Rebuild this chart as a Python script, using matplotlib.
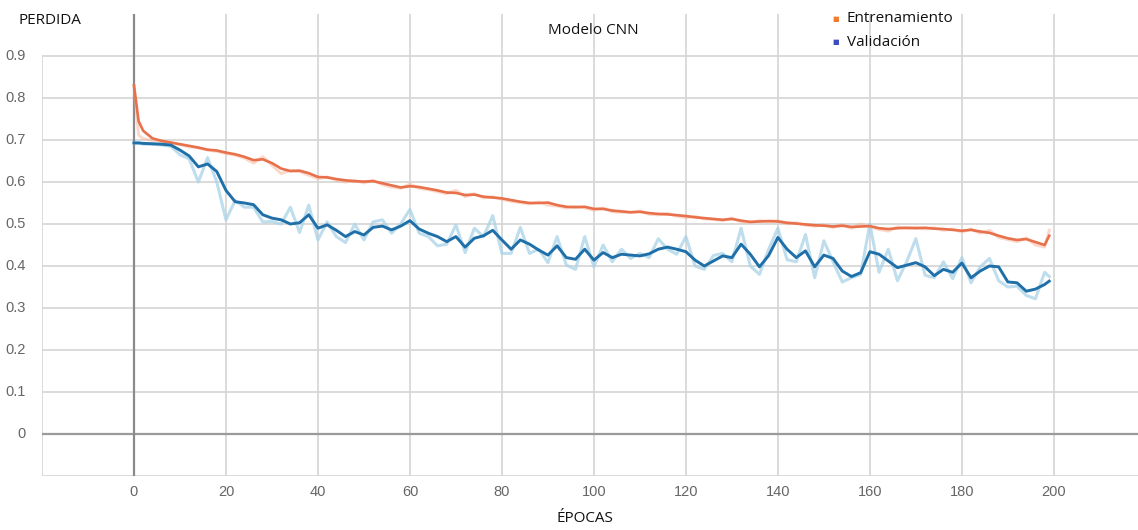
import numpy as np
import matplotlib.pyplot as plt

epochs = [0, 1] + list(range(2, 200, 2)) + [199]

train_smooth = [
    0.830, 0.745, 0.722, 0.704, 0.698, 0.694, 0.690, 0.686, 0.682, 0.677,
    0.675, 0.670, 0.666, 0.660, 0.652, 0.654, 0.645, 0.632, 0.626, 0.627,
    0.621, 0.612, 0.611, 0.607, 0.604, 0.602, 0.601, 0.602, 0.597, 0.592,
    0.587, 0.590, 0.588, 0.584, 0.580, 0.575, 0.574, 0.569, 0.570, 0.565,
    0.563, 0.561, 0.557, 0.553, 0.550, 0.550, 0.551, 0.545, 0.541, 0.540,
    0.541, 0.536, 0.536, 0.532, 0.530, 0.528, 0.529, 0.526, 0.524, 0.523,
    0.521, 0.519, 0.516, 0.514, 0.512, 0.510, 0.512, 0.508, 0.505, 0.506,
    0.507, 0.506, 0.503, 0.501, 0.499, 0.497, 0.496, 0.494, 0.496, 0.493,
    0.494, 0.495, 0.490, 0.488, 0.490, 0.491, 0.490, 0.491, 0.489, 0.488,
    0.486, 0.484, 0.486, 0.482, 0.479, 0.472, 0.466, 0.462, 0.464, 0.457,
    0.450, 0.472,
]

train_raw = [
    0.830, 0.712, 0.703, 0.699, 0.696, 0.693, 0.689, 0.684, 0.681, 0.676,
    0.673, 0.668, 0.664, 0.657, 0.645, 0.660, 0.640, 0.620, 0.628, 0.625,
    0.616, 0.608, 0.612, 0.604, 0.600, 0.603, 0.598, 0.604, 0.594, 0.588,
    0.585, 0.595, 0.585, 0.582, 0.577, 0.572, 0.580, 0.565, 0.572, 0.562,
    0.565, 0.559, 0.554, 0.551, 0.548, 0.552, 0.545, 0.543, 0.538, 0.542,
    0.538, 0.533, 0.538, 0.529, 0.528, 0.527, 0.531, 0.523, 0.522, 0.525,
    0.519, 0.515, 0.518, 0.512, 0.511, 0.508, 0.514, 0.505, 0.504, 0.508,
    0.505, 0.508, 0.500, 0.503, 0.497, 0.495, 0.498, 0.492, 0.498, 0.490,
    0.500, 0.493, 0.487, 0.483, 0.493, 0.489, 0.492, 0.488, 0.491, 0.485,
    0.488, 0.481, 0.488, 0.478, 0.485, 0.468, 0.463, 0.458, 0.467, 0.450,
    0.445, 0.485,
]

val_smooth = [
    0.693, 0.693, 0.692, 0.691, 0.690, 0.688, 0.676, 0.662, 0.636, 0.643,
    0.625, 0.580, 0.553, 0.550, 0.546, 0.522, 0.514, 0.510, 0.500, 0.503,
    0.522, 0.490, 0.498, 0.485, 0.470, 0.482, 0.474, 0.492, 0.495, 0.486,
    0.495, 0.508, 0.488, 0.478, 0.470, 0.458, 0.470, 0.445, 0.466, 0.472,
    0.485, 0.462, 0.440, 0.462, 0.452, 0.438, 0.426, 0.448, 0.420, 0.416,
    0.440, 0.414, 0.432, 0.420, 0.428, 0.426, 0.424, 0.429, 0.440, 0.445,
    0.440, 0.434, 0.414, 0.400, 0.412, 0.424, 0.420, 0.452, 0.428, 0.398,
    0.425, 0.468, 0.440, 0.420, 0.436, 0.398, 0.426, 0.418, 0.388, 0.375,
    0.384, 0.434, 0.428, 0.412, 0.396, 0.402, 0.408, 0.398, 0.377, 0.392,
    0.385, 0.407, 0.372, 0.388, 0.400, 0.398, 0.362, 0.360, 0.340, 0.345,
    0.356, 0.364,
]

val_raw = [
    0.693, 0.693, 0.690, 0.690, 0.688, 0.685, 0.665, 0.655, 0.600, 0.658,
    0.600, 0.510, 0.556, 0.540, 0.540, 0.505, 0.506, 0.500, 0.540, 0.480,
    0.545, 0.462, 0.505, 0.470, 0.456, 0.500, 0.462, 0.505, 0.510, 0.478,
    0.500, 0.535, 0.478, 0.470, 0.448, 0.452, 0.498, 0.432, 0.490, 0.470,
    0.520, 0.430, 0.430, 0.492, 0.430, 0.440, 0.408, 0.470, 0.402, 0.392,
    0.470, 0.398, 0.450, 0.410, 0.440, 0.418, 0.430, 0.420, 0.465, 0.440,
    0.428, 0.470, 0.400, 0.392, 0.425, 0.430, 0.410, 0.490, 0.400, 0.380,
    0.440, 0.490, 0.415, 0.410, 0.475, 0.372, 0.460, 0.410, 0.362, 0.372,
    0.380, 0.500, 0.385, 0.440, 0.365, 0.410, 0.465, 0.378, 0.372, 0.410,
    0.370, 0.420, 0.360, 0.398, 0.418, 0.365, 0.350, 0.352, 0.330, 0.322,
    0.385, 0.375,
]

y_ticks = [0, 0.1, 0.2, 0.3, 0.4, 0.5, 0.6, 0.7, 0.8, 0.9]
x_ticks = list(range(0, 201, 20))

W, H = 1138, 530
fig = plt.figure(figsize=(W / 100, H / 100), dpi=100)
ax = fig.add_axes([42 / W, 54 / H, 1 - 42 / W, 462 / H])
ax.set_xlim(-20, 218.3)
ax.set_ylim(-0.1, 1.0)

grid_c = "#d4d4d4"
for yv in [-0.1] + y_ticks[1:]:
    ax.axhline(yv, color=grid_c, lw=1.2, zorder=0)
for xv in x_ticks[1:]:
    ax.axvline(xv, color=grid_c, lw=1.2, zorder=0)
ax.axhline(0, color="#9a9a9a", lw=1.6, zorder=1)
ax.axvline(0, color="#8a8a8a", lw=1.6, zorder=1)
ax.plot([-20, -20], [-0.1, 0.9], color=grid_c, lw=1.2, zorder=0)

# raw series, faint and wide like the tensorboard export
ax.plot(epochs, train_raw, color="#f7b59a", lw=2.2, alpha=0.5, zorder=2)
ax.plot(epochs, val_raw, color="#a9d2e8", lw=2.2, alpha=0.75, zorder=2)
ax.plot(epochs, train_smooth, color="#e8704a", lw=1.9, zorder=3)
ax.plot(epochs, val_smooth, color="#1f6fa8", lw=2.1, zorder=3)

for s in ax.spines.values():
    s.set_visible(False)
ax.set_xticks([])
ax.set_yticks([])

tick_font = dict(family="Liberation Sans", color="#666666", fontsize=10.5)
for yv in y_ticks:
    ax.text(-23.5, yv, "0" if yv == 0 else f"{yv:.1f}", ha="right", va="center", **tick_font)
for xv in x_ticks:
    ax.text(xv, -0.137, str(xv), ha="center", va="center", **tick_font)

label_font = dict(family="Open Sans", color="#111111", fontsize=11)
fig.text(18 / W, 1 - 20 / H, "PERDIDA", ha="left", va="center", **label_font)
fig.text(593 / W, 1 - 30 / H, "Modelo CNN", ha="center", va="center", **label_font)
fig.text(585 / W, 1 - 519 / H, "ÉPOCAS", ha="center", va="center", **label_font)

fig.text(836 / W, 1 - 19 / H, "■", color="#f47c2c", fontsize=5, ha="center", va="center")
fig.text(836 / W, 1 - 42 / H, "■", color="#3a4cc0", fontsize=5, ha="center", va="center")
fig.text(847 / W, 1 - 19 / H, "Entrenamiento", ha="left", va="center", **label_font)
fig.text(847 / W, 1 - 42 / H, "Validación", ha="left", va="center", **label_font)

fig.savefig("out.png", dpi=100)
